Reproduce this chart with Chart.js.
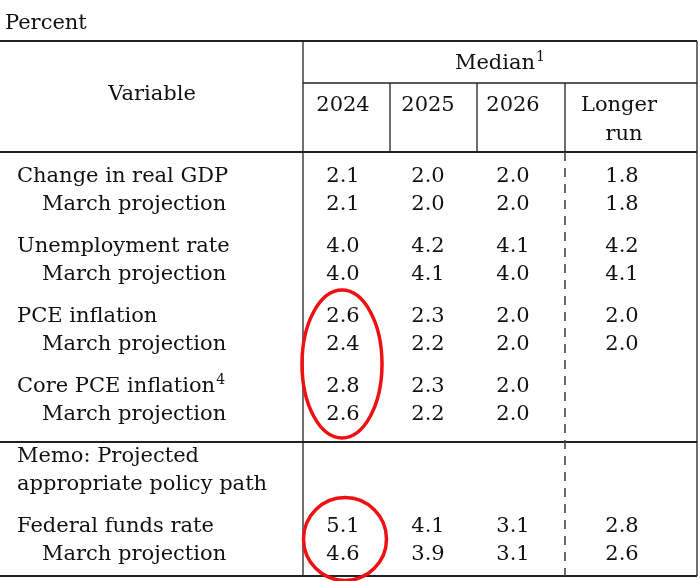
<!DOCTYPE html>
<html>
<head>
<meta charset="utf-8">
<script src="https://cdn.jsdelivr.net/npm/chart.js@4.4.0/dist/chart.umd.min.js"></script>
<style>
  html, body { margin: 0; padding: 0; background: #fff; }
  canvas { display: block; }
</style>
</head>
<body>
<canvas id="myChart" width="700" height="581"></canvas>
<script>
    // table content
    const rowLabels = ['Change in real GDP', 'March projection', 'Unemployment rate', 'March projection',
        'PCE inflation', 'March projection', 'Core PCE inflation', 'March projection',
        'Federal funds rate', 'March projection'];
    const rowSup = ['', '', '', '', '', '', '4', '', '', ''];
    const columns = ['2024', '2025', '2026', 'Longer run'];
    const v2024 = [2.1, 2.1, 4.0, 4.0, 2.6, 2.4, 2.8, 2.6, 5.1, 4.6];
    const v2025 = [2.0, 2.0, 4.2, 4.1, 2.3, 2.2, 2.3, 2.2, 4.1, 3.9];
    const v2026 = [2.0, 2.0, 4.1, 4.0, 2.0, 2.0, 2.0, 2.0, 3.1, 3.1];
    const vLonger = [1.8, 1.8, 4.2, 4.1, 2.0, 2.0, null, null, 2.8, 2.6];
    const memoLines = ['Memo: Projected', 'appropriate policy path'];

    // layout (x in px-like units, y in row units)
    const rowPos = [0, 1, 2.5, 3.5, 5, 6, 7.5, 8.5, 12.5, 13.5];
    const memoPos = [10, 11];
    const colX = [343, 428, 513, 622];
    const FONT = '"DejaVu Serif", serif';
    const FS = 21;

    let ctx = document.getElementById('myChart').getContext('2d');

    let allCols = [v2024, v2025, v2026, vLonger];
    let datasets = allCols.map(function (vals, c) {
        let pts = [];
        for (let r = 0; r < vals.length; r++) {
            if (vals[r] !== null) pts.push({x: colX[c], y: rowPos[r], v: vals[r]});
        }
        return {label: columns[c], data: pts, pointRadius: 0, showLine: false};
    });

    function txt(c, s, x, y, align, size) {
        c.font = (size || FS) + 'px ' + FONT;
        c.textAlign = align || 'left';
        c.textBaseline = 'alphabetic';
        c.fillText(s, x, y);
        return c.measureText(s).width;
    }

    const tablePlugin = {
        id: 'table',
        afterDatasetsDraw(chart) {
            let c = chart.ctx;
            let xs = chart.scales.x, ys = chart.scales.y;
            let X = v => xs.getPixelForValue(v);
            let Y = v => ys.getPixelForValue(v);
            let base = 7; // text baseline offset from row center
            c.save();
            c.fillStyle = '#111';

            // rules
            function hline(u, x0, x1, w) {
                c.beginPath(); c.lineWidth = w; c.strokeStyle = '#222';
                c.moveTo(X(x0), Y(u)); c.lineTo(X(x1), Y(u)); c.stroke();
            }
            function vline(x, u0, u1, w, dash) {
                c.beginPath(); c.lineWidth = w; c.strokeStyle = dash ? '#444' : '#222';
                c.setLineDash(dash || []);
                c.moveTo(X(x), Y(u0)); c.lineTo(X(x), Y(u1)); c.stroke();
                c.setLineDash([]);
            }
            hline(-4.786, 0, 697, 2);
            hline(-3.286, 303, 697, 1.3);
            hline(-0.821, 0, 697, 2);
            hline(9.536, 0, 697, 2);
            hline(14.32, 0, 697, 2);
            vline(303, -4.786, 14.32, 1.3);
            vline(697, -4.786, 14.32, 1.3);
            vline(390, -3.286, -0.821, 1.3);
            vline(477, -3.286, -0.821, 1.3);
            vline(565, -3.286, -0.821, 1.3);
            vline(565, -0.821, 14.32, 1.6, [9, 7]);

            // header
            txt(c, 'Percent', X(5), Y(-5.46) + base);
            txt(c, 'Variable', X(152), Y(-2.93) + base, 'center');
            c.font = FS + 'px ' + FONT;
            let mw = c.measureText('Median').width;
            let mx = X(495) - mw / 2;
            txt(c, 'Median', mx, Y(-4.04) + base);
            txt(c, '1', mx + mw + 1, Y(-4.04) + base - 8, 'left', 14);
            for (let i = 0; i < 3; i++) txt(c, columns[i], X(colX[i]), Y(-2.52) + base, 'center');
            let lr = columns[3].split(' ');
            txt(c, lr[0], X(619), Y(-2.52) + base, 'center');
            txt(c, lr[1], X(624), Y(-1.5) + base, 'center');

            // row labels
            for (let r = 0; r < rowLabels.length; r++) {
                let sub = rowLabels[r] === 'March projection';
                let w = txt(c, rowLabels[r], X(sub ? 42 : 17), Y(rowPos[r]) + base);
                if (rowSup[r]) txt(c, rowSup[r], X(sub ? 42 : 17) + w + 1, Y(rowPos[r]) + base - 8, 'left', 14);
            }
            memoLines.forEach((s, i) => txt(c, s, X(17), Y(memoPos[i]) + base));

            // cell values
            chart.data.datasets.forEach(function (ds, di) {
                let meta = chart.getDatasetMeta(di);
                meta.data.forEach(function (el, i) {
                    txt(c, ds.data[i].v.toFixed(1), el.x, el.y + base, 'center');
                });
            });

            // red highlight ellipses
            c.strokeStyle = '#ee1111';
            c.lineWidth = 3.5;
            c.beginPath();
            c.ellipse(X(colX[0] - 1), Y((rowPos[4] + rowPos[7]) / 2), 40, Y(2.64) - Y(0), 0, 0, Math.PI * 2);
            c.stroke();
            c.beginPath();
            c.ellipse(X(colX[0] + 2), Y((rowPos[8] + rowPos[9]) / 2), 41.5, Y(1.48) - Y(0), 0, 0, Math.PI * 2);
            c.stroke();
            c.restore();
        }
    };

    let myChart = new Chart(ctx, {
        type: 'scatter',
        data: {datasets: datasets},
        options: {
            responsive: false,
            animation: false,
            events: [],
            layout: {padding: 0},
            plugins: {legend: {display: false}, tooltip: {enabled: false}},
            scales: {
                x: {type: 'linear', display: false, min: 0, max: 700},
                y: {type: 'linear', display: false, min: -6.25, max: 14.5, reverse: true}
            }
        },
        plugins: [tablePlugin]
    });
</script>
</body>
</html>
